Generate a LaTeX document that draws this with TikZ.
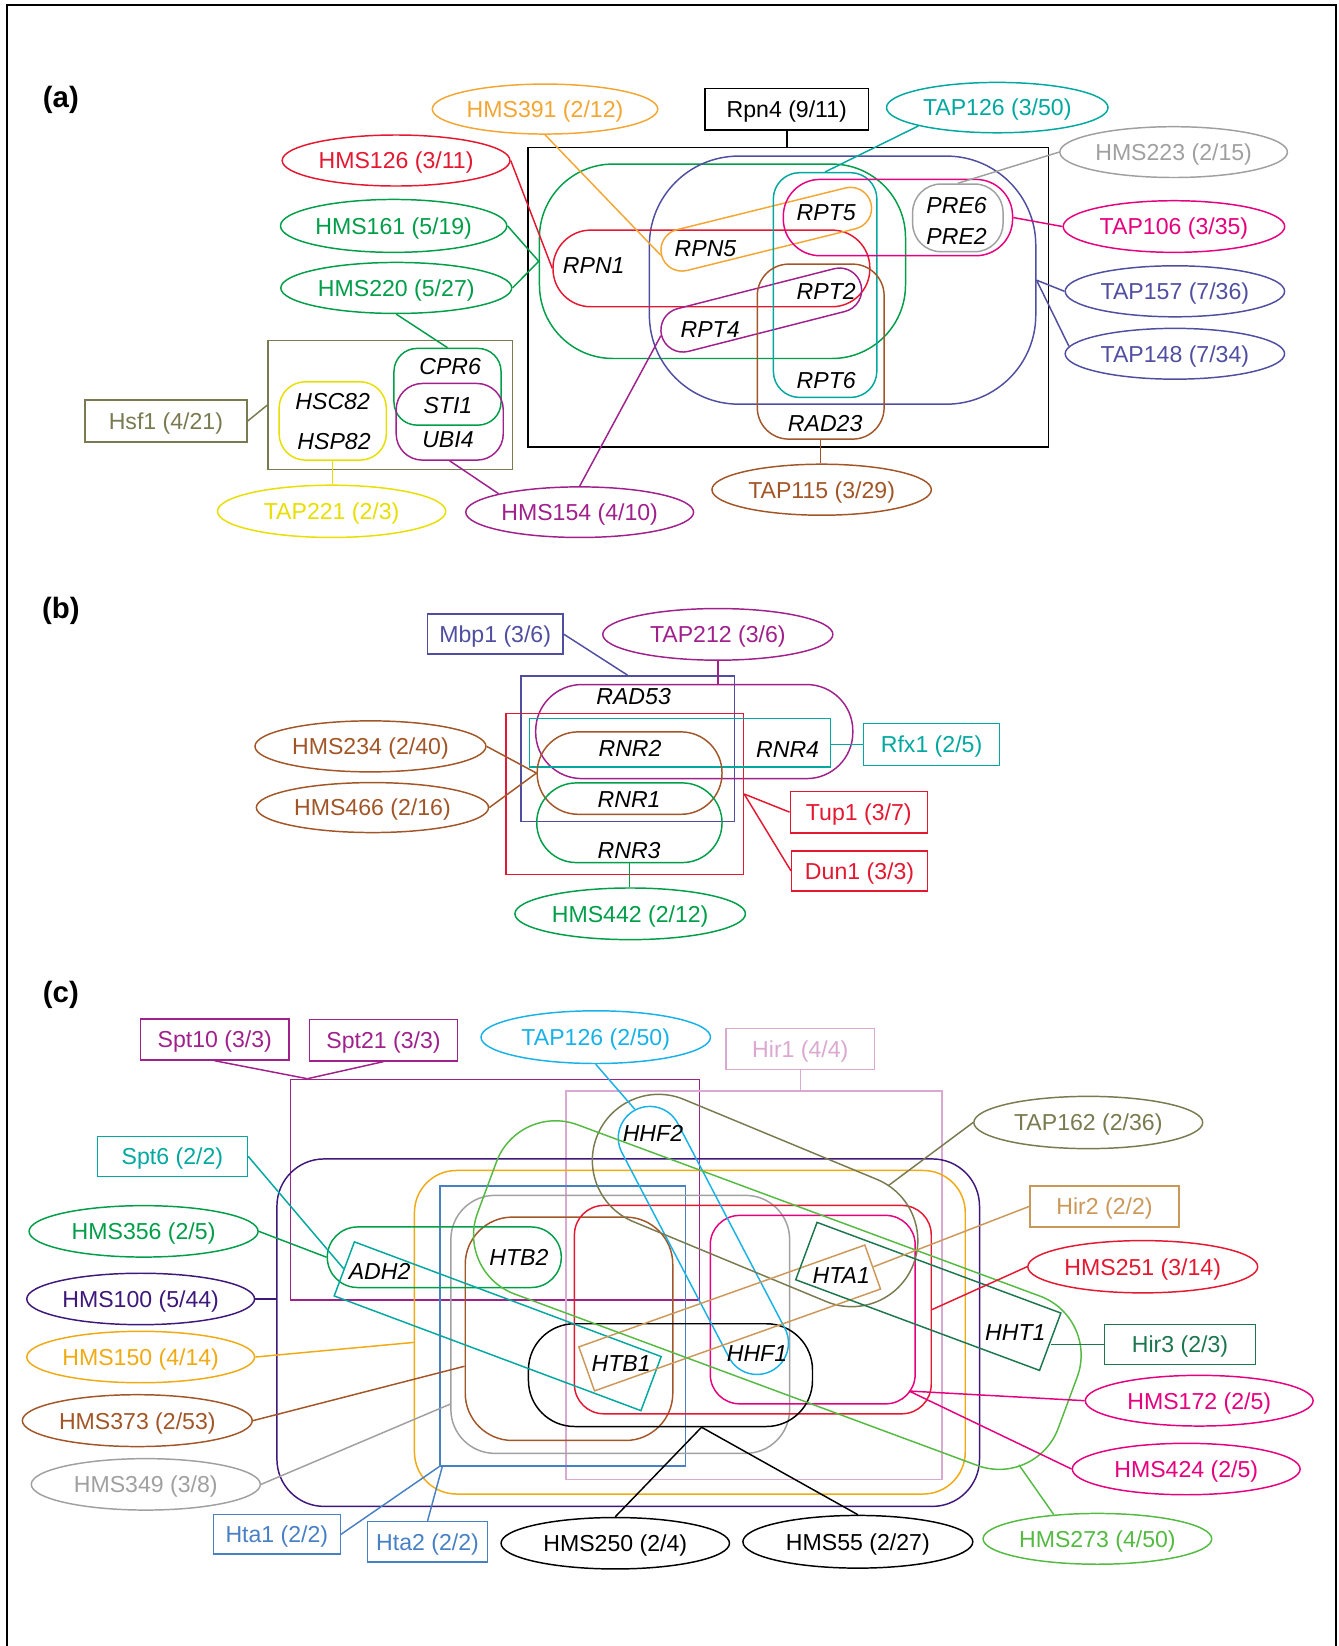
\documentclass[tikz,border=0pt]{standalone}
\usepackage{fontspec}
\setmainfont{Liberation Sans}
\usetikzlibrary{shapes.geometric,calc}
\definecolor{cOrange}{RGB}{243,166,51}
\definecolor{cOrangeC}{RGB}{240,170,20}
\definecolor{cTeal}{RGB}{0,168,160}
\definecolor{cGray}{RGB}{160,160,160}
\definecolor{cRed}{RGB}{228,24,48}
\definecolor{cGreen}{RGB}{0,158,72}
\definecolor{cPink}{RGB}{230,0,126}
\definecolor{cIndigo}{RGB}{80,78,160}
\definecolor{cOlive}{RGB}{122,122,80}
\definecolor{cYellow}{RGB}{232,222,0}
\definecolor{cPurple}{RGB}{160,32,140}
\definecolor{cBrown}{RGB}{162,86,40}
\definecolor{cDkIndigo}{RGB}{62,24,122}
\definecolor{cCyan}{RGB}{25,178,232}
\definecolor{cLtPink}{RGB}{218,168,208}
\definecolor{cSteel}{RGB}{72,128,196}
\definecolor{cLtGreen}{RGB}{84,186,66}
\definecolor{cTan}{RGB}{204,152,90}
\definecolor{cDkGreen}{RGB}{28,118,78}
\begin{document}
\begin{tikzpicture}[x=1pt,y=-1pt,
  every node/.style={font=\fontsize{22}{26}\selectfont, inner sep=0pt, text depth=0pt},
  ell/.style={draw=#1, text=#1, ellipse, line width=1.4pt},
  lbox/.style={draw=#1, text=#1, rectangle, line width=1.4pt},
  grp/.style={draw=#1, rectangle, line width=1.4pt},
  gene/.style={font=\fontsize{22}{26}\selectfont\itshape},
  con/.style={draw=#1, line width=1.4pt},
  plabel/.style={font=\fontsize{28}{30}\selectfont\bfseries}]
\useasboundingbox (0,0) rectangle (1275,1568);
\draw[line width=1.8pt] (6.4,1568) -- (6.4,4.8) -- (1272.5,4.8) -- (1272.5,1568);

% ================= (a) =================
\node[plabel] (la) at (58,92) {(a)};
\node[lbox=black, minimum width=156, minimum height=39.7] (rpn4) at (749.5,104) {Rpn4 (9/11)};
\node[grp=black, minimum width=495.7, minimum height=285.3] (bigA) at (750.85,283.05) {};
\node[ell=cOrange, minimum width=214.8, minimum height=47.6] (h391) at (519.2,103.9) {HMS391 (2/12)};
\node[ell=cTeal, minimum width=211, minimum height=48] (t126a) at (950,102.5) {TAP126 (3/50)};
\node[ell=cGray, minimum width=216.8, minimum height=48.4] (h223) at (1118,144.9) {HMS223 (2/15)};
\node[ell=cRed, minimum width=217, minimum height=48.6] (h126) at (377.3,152.9) {HMS126 (3/11)};
\node[ell=cGreen, minimum width=215.6, minimum height=50.4] (h161) at (375,215.2) {HMS161 (5/19)};
\node[ell=cGreen, minimum width=220, minimum height=48.6] (h220) at (377.5,274.3) {HMS220 (5/27)};
\node[ell=cPink, minimum width=211, minimum height=49.2] (t106) at (1118.3,215.8) {TAP106 (3/35)};
\node[ell=cIndigo, minimum width=209, minimum height=48.6] (t157) at (1119.2,277.5) {TAP157 (7/36)};
\node[ell=cIndigo, minimum width=209, minimum height=48.4] (t148) at (1119.2,337) {TAP148 (7/34)};
\node[ell=cBrown, minimum width=209, minimum height=48.6] (t115) at (782.7,466.5) {TAP115 (3/29)};
\node[ell=cYellow, minimum width=217.4, minimum height=49.8] (t221) at (315.9,487.1) {TAP221 (2/3)};
\node[ell=cPurple, minimum width=217, minimum height=48.2] (h154) at (552.2,487.9) {HMS154 (4/10)};
\node[lbox=cOlive, minimum width=154.5, minimum height=39.7] (hsf1) at (158.05,401.05) {Hsf1 (4/21)};
\node[grp=cOlive, minimum width=232.7, minimum height=122.6] (olv) at (371.65,385.9) {};
\node[grp=cYellow, rounded corners=25, minimum width=102.1, minimum height=74.6] (yel) at (316.95,401) {};
\node[grp=cGreen, rounded corners=22, minimum width=102, minimum height=73.1] (cpr6) at (426.3,368.45) {};
\node[grp=cPurple, rounded corners=25, minimum width=102, minimum height=73] (ubi4) at (428.4,401.8) {};

\node[grp=cGreen, rounded corners=70, minimum width=348.7, minimum height=185.2] (grnA) at (688.25,248.9) {};
\node[grp=cIndigo, rounded corners=85, minimum width=368.1, minimum height=236.3] (indA) at (802.65,266.85) {};
\node[grp=cRed, rounded corners=36, minimum width=301.8, minimum height=73] (rpn1) at (677.7,255.7) {};
\node[grp=cOrange, rounded corners=20, minimum width=205.5, minimum height=40, rotate=13.9] (rpn5) at (729.95,218.35) {};
\node[grp=cPurple, rounded corners=21, minimum width=196, minimum height=42, rotate=14.3] (rpt4) at (725.2,295.35) {};
\node[grp=cTeal, rounded corners=25, minimum width=98.6, minimum height=214.1] (tealA) at (786,271.55) {};
\node[grp=cPink, rounded corners=35, minimum width=218.4, minimum height=72.7] (pinkA) at (855.4,207.25) {};
\node[grp=cGray, rounded corners=27, minimum width=86.1, minimum height=64.5] (grayA) at (912.45,207.55) {};
\node[grp=cBrown, rounded corners=30, minimum width=120.8, minimum height=166.7] (radA) at (781.8,334.95) {};

\node[gene] (gRPN1) at (565.6,253.4) {RPN1};
\node[gene] (gRPN5) at (672.1,236.6) {RPN5};
\node[gene] (gRPT5) at (787.1,202.6) {RPT5};
\node[gene] (gRPT2) at (787.1,277.9) {RPT2};
\node[gene] (gRPT4) at (676.5,313.8) {RPT4};
\node[gene] (gRPT6) at (787.1,362.1) {RPT6};
\node[gene] (gRAD23) at (786.1,403.4) {RAD23};
\node[gene] (gPRE6) at (911.3,195.3) {PRE6};
\node[gene] (gPRE2) at (911.3,225.5) {PRE2};
\node[gene] (gHSC82) at (316.9,382.8) {HSC82};
\node[gene] (gHSP82) at (318.2,420.9) {HSP82};
\node[gene] (gCPR6) at (428.8,348.8) {CPR6};
\node[gene] (gSTI1) at (426.7,386) {STI1};
\node[gene] (gUBI4) at (426.7,418.7) {UBI4};

\draw[con=black] (rpn4.south) -- (rpn4.south |- bigA.north);
\draw[con=cOrange] (h391.south) -- (rpn5.west);
\draw[con=cTeal] (t126a.south west) -- (tealA.north);
\draw[con=cGray] (h223.west) -- (grayA.north);
\draw[con=cRed] (h126.east) -- (rpn1.west);
\draw[con=cGreen] (h161.east) -- (grnA.west);
\draw[con=cGreen] (h220.east) -- (grnA.west);
\draw[con=cGreen] (h220.south) -- (cpr6.north);
\draw[con=cPink] (pinkA.east) -- (t106.west);
\draw[con=cIndigo] (indA.east) -- (t157.west);
\draw[con=cIndigo] (indA.east) -- (t148.176);
\draw[con=cBrown] (radA.south) -- (radA.south |- t115.north);
\draw[con=cOlive] (hsf1.east) -- (olv.west);
\draw[con=cYellow] (yel.south) -- (yel.south |- t221.north);
\draw[con=cPurple] (ubi4.south) -- (h154.north west);
\draw[con=cPurple] (h154.north) -- (rpt4.west);

% ================= (b) =================
\node[plabel] (lb) at (58,579) {(b)};
\node[lbox=cIndigo, minimum width=129.3, minimum height=38.1] (mbp1) at (471.75,604.15) {Mbp1 (3/6)};
\node[ell=cPurple, minimum width=219.2, minimum height=49.2] (t212) at (683.8,604.3) {TAP212 (3/6)};
\node[grp=cIndigo, minimum width=203.5, minimum height=138.5] (indB) at (597.85,713.15) {};
\node[grp=cPurple, rounded corners=44, minimum width=302.1, minimum height=89.6] (capB) at (661.35,696.9) {};
\node[grp=cRed, minimum width=226.3, minimum height=153.1] (redB) at (595.05,756.35) {};
\node[grp=cTeal, minimum width=286.8, minimum height=46.1] (tealB) at (647.6,707.55) {};
\node[lbox=cTeal, minimum width=129.2, minimum height=39.7] (rfx1) at (887.4,709.15) {Rfx1 (2/5)};
\node[grp=cBrown, rounded corners=39, minimum width=176.1, minimum height=78.5] (brB) at (599.75,736.45) {};
\node[grp=cGreen, rounded corners=37.9, minimum width=176.5, minimum height=75.9] (grB) at (599.55,783.75) {};
\node[ell=cBrown, minimum width=220, minimum height=48.6] (h234) at (352.9,711) {HMS234 (2/40)};
\node[ell=cBrown, minimum width=221.2, minimum height=47.6] (h466) at (354.8,769.3) {HMS466 (2/16)};
\node[lbox=cRed, minimum width=130.6, minimum height=39.7] (tup1) at (818.1,773.65) {Tup1 (3/7)};
\node[lbox=cRed, minimum width=129.2, minimum height=38.1] (dun1) at (818.8,829.65) {Dun1 (3/3)};
\node[ell=cGreen, minimum width=219.6, minimum height=49.2] (h442) at (600.3,870.5) {HMS442 (2/12)};

\node[gene] (gRAD53) at (603.6,663.9) {RAD53};
\node[gene] (gRNR2) at (600.2,712.5) {RNR2};
\node[gene] (gRNR4) at (750.3,714) {RNR4};
\node[gene] (gRNR1) at (599.3,761.7) {RNR1};
\node[gene] (gRNR3) at (599.3,810.6) {RNR3};

\draw[con=cIndigo] (mbp1.east) -- (indB.north);
\draw[con=cPurple] (t212.south) -- (t212.south |- capB.north);
\draw[con=cTeal] (rfx1.west) -- (rfx1.west -| tealB.east);
\draw[con=cBrown] (h234.east) -- (brB.west);
\draw[con=cBrown] (h466.east) -- (brB.west);
\draw[con=cRed] (redB.east) -- (tup1.west);
\draw[con=cRed] (redB.east) -- (dun1.west);
\draw[con=cGreen] (grB.south) -- (grB.south |- h442.north);

% ================= (c) =================
\node[plabel] (lc) at (58,945) {(c)};
\node[lbox=cPurple, minimum width=141.2, minimum height=39.2] (spt10) at (204.6,990.2) {Spt10 (3/3)};
\node[lbox=cPurple, minimum width=141.2, minimum height=39.2] (spt21) at (365.4,991) {Spt21 (3/3)};
\node[grp=cPurple, minimum width=390, minimum height=210] (sptR) at (471.5,1133.3) {};
\node[lbox=cTeal, minimum width=143, minimum height=38] (spt6) at (164.2,1101.5) {Spt6 (2/2)};
\node[ell=cCyan, minimum width=218.6, minimum height=50.2] (t126c) at (567.5,988) {TAP126 (2/50)};
\node[lbox=cLtPink, minimum width=141.6, minimum height=39.3] (hir1) at (762.4,999.25) {Hir1 (4/4)};
\node[grp=cLtPink, minimum width=358.4, minimum height=370.2] (hir1R) at (718.2,1224.4) {};
\node[ell=cOlive, minimum width=218, minimum height=49.8] (t162) at (1036.7,1069.3) {TAP162 (2/36)};
\node[lbox=cTan, minimum width=142, minimum height=39.2] (hir2) at (1052.2,1149.2) {Hir2 (2/2)};
\node[ell=cRed, minimum width=219, minimum height=49.8] (h251) at (1088.6,1206.7) {HMS251 (3/14)};
\node[lbox=cDkGreen, minimum width=143.8, minimum height=37.7] (hir3) at (1124.1,1280.75) {Hir3 (2/3)};
\node[ell=cPink, minimum width=217, minimum height=48.3] (h172) at (1142.4,1334.3) {HMS172 (2/5)};
\node[ell=cPink, minimum width=217, minimum height=49] (h424) at (1130,1399.4) {HMS424 (2/5)};
\node[ell=cLtGreen, minimum width=217.8, minimum height=48.4] (h273) at (1045.4,1465.9) {HMS273 (4/50)};
\node[ell=black, minimum width=219, minimum height=50.2] (h55) at (817.2,1468.7) {HMS55 (2/27)};
\node[ell=black, minimum width=217.6, minimum height=49] (h250) at (586.1,1470.1) {HMS250 (2/4)};
\node[lbox=cSteel, minimum width=120.9, minimum height=37.3] (hta1) at (263.75,1461.55) {Hta1 (2/2)};
\node[lbox=cSteel, minimum width=114.4, minimum height=38.5] (hta2) at (407.3,1468.75) {Hta2 (2/2)};
\node[ell=cGray, minimum width=218.2, minimum height=49] (h349) at (138.9,1414) {HMS349 (3/8)};
\node[ell=cBrown, minimum width=219, minimum height=49.4] (h373) at (130.8,1353.3) {HMS373 (2/53)};
\node[ell=cOrangeC, minimum width=217, minimum height=49] (h150) at (134,1292.7) {HMS150 (4/14)};
\node[ell=cDkIndigo, minimum width=217, minimum height=49] (h100) at (134,1237.4) {HMS100 (5/44)};
\node[ell=cGreen, minimum width=218.2, minimum height=49] (h356) at (136.8,1173) {HMS356 (2/5)};

\node[grp=cDkIndigo, rounded corners=45, minimum width=669.3, minimum height=331] (ind) at (598.45,1269.5) {};
\node[grp=cOrangeC, rounded corners=40, minimum width=524.7, minimum height=308.2] (orc) at (657.15,1269.1) {};
\node[grp=cSteel, minimum width=234, minimum height=266.9] (bluR) at (536,1263.05) {};
\node[grp=cGray, rounded corners=42, minimum width=322.7, minimum height=245.8] (grR) at (590.85,1261.6) {};
\node[grp=cBrown, rounded corners=45, minimum width=197.7, minimum height=212.8] (brR) at (542.05,1265.8) {};
\node[grp=cGreen, rounded corners=28.8, minimum width=222.9, minimum height=57.7] (grC) at (423.25,1197.65) {};
\node[grp=cRed, rounded corners=28, minimum width=339.9, minimum height=198.5] (rdR) at (717.15,1247.55) {};
\node[grp=cPink, rounded corners=28, minimum width=195.2, minimum height=179.5] (pkR) at (774.2,1247.55) {};
\node[grp=black, rounded corners=44, minimum width=270.6, minimum height=97.9] (blC) at (638.7,1309.95) {};
\node[grp=cTeal, minimum width=312, minimum height=55, rotate=-20.5] (adh) at (474.1,1263.4) {};
\node[grp=cCyan, rounded corners=30, minimum width=280.4, minimum height=60, rotate=-62.4] (hhf) at (670.05,1181.65) {};
\node[grp=cOlive, rounded corners=63, minimum width=325.2, minimum height=126, rotate=-22.5] (olc) at (719.3,1143.6) {};
\node[grp=cTan, minimum width=289.2, minimum height=44.5, rotate=19.6] (tanR) at (695.1,1255.5) {};
\node[grp=cDkGreen, minimum width=247.8, minimum height=58.3, rotate=-20.4] (dgR) at (884.3,1234.95) {};
\node[grp=cLtGreen, rounded corners=60, minimum width=590, minimum height=172, rotate=-20.33] (lgR) at (740.5,1233.7) {};

\node[gene] (gADH2) at (361.6,1210.8) {ADH2};
\node[gene] (gHTB2) at (494.3,1198.3) {HTB2};
\node[gene] (gHHF2) at (622,1080) {HHF2};
\node[gene] (gHTB1) at (591.7,1298.5) {HTB1};
\node[gene] (gHHF1) at (721.1,1289.6) {HHF1};
\node[gene] (gHTA1) at (801.4,1215) {HTA1};
\node[gene] (gHHT1) at (967.2,1269) {HHT1};

\coordinate (sptj) at ($(sptR.north west)+(17,0)$);
\coordinate (c150) at ($(orc.west)+(0,9.7)$);
\coordinate (c349) at ($(grR.west)+(0,76)$);
\coordinate (c373) at ($(brR.west)+(0,35.7)$);
\coordinate (cbl) at ($(blC.south)+(29.6,0)$);
\coordinate (cpk) at (866,1325.1);
\coordinate (c162) at (846,1129.6);
\coordinate (c273) at (970.6,1395.4);

\draw[con=cPurple] (spt10.south) -- (sptj);
\draw[con=cPurple] (spt21.south) -- (sptj);
\draw[con=cTeal] (spt6.east) -- (adh.west);
\draw[con=cCyan] (t126c.south) -- (hhf.west);
\draw[con=cLtPink] (hir1.south) -- (hir1.south |- hir1R.north);
\draw[con=cOlive] (t162.west) -- (c162);
\draw[con=cTan] (tanR.east) -- (hir2.west);
\draw[con=cRed] (rdR.east) -- (h251.west);
\draw[con=cDkGreen] (hir3.west -| dgR.east) -- (hir3.west);
\draw[con=cPink] (cpk) -- (h172.west);
\draw[con=cPink] (cpk) -- (h424.west);
\draw[con=cLtGreen] (c273) -- (h273.151);
\draw[con=black] (cbl) -- (h250.north);
\draw[con=black] (cbl) -- (h55.north);
\draw[con=cSteel] (hta1.east) -- (bluR.south west);
\draw[con=cSteel] (hta2.north) -- ($(bluR.south west)+(3,0)$);
\draw[con=cGray] (h349.east) -- (c349);
\draw[con=cBrown] (h373.east) -- (c373);
\draw[con=cOrangeC] (h150.east) -- (c150);
\draw[con=cDkIndigo] (h100.east) -- (h100.east -| ind.west);
\draw[con=cGreen] (h356.east) -- (grC.west);
\end{tikzpicture}
\end{document}
